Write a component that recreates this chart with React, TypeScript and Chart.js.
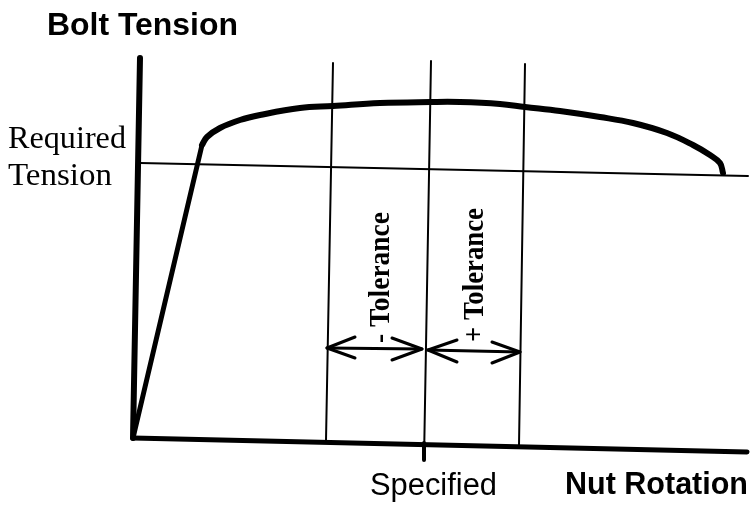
import React, { useEffect, useRef } from "react";
import { Chart, registerables } from "chart.js";

Chart.register(...registerables);

// Diagram units: rotation (x) and tension (y), origin at the axes corner.
const yAxisRot = [0, 7];
const yAxisTen = [0, 380];
const xAxisRot = [0, 614];
const xAxisTen = [0, -14];

// Elastic (straight) part of the tension curve
const elasticRot = [0, 69];
const elasticTen = [0, 293];
// Plastic (curved) part of the tension curve
const plasticRot = [69, 74, 87, 107, 127, 167, 200, 247, 298, 327, 367, 392, 427, 467, 500, 534, 560, 577, 587, 590];
const plasticTen = [293, 301, 310, 318, 323, 330, 332, 335, 336, 336, 334, 331, 327, 321, 315, 305, 293, 283, 275, 265];

// Required tension line
const requiredRot = [7, 615];
const requiredTen = [275, 262];

// Vertical lines: - tolerance, specified, + tolerance
const minusTolRot = [200, 193];
const minusTolTen = [375, -2];
const specifiedRot = [298, 291];
const specifiedTen = [377, -22];
const specTickRot = [291, 291];
const specTickTen = [-5, -22];
const plusTolRot = [392, 386];
const plusTolTen = [374, -7];

// Arrows
const minusArrowRot = [194, 289];
const minusArrowTen = [90, 89];
const minusHeadLRot = [222, 194, 222];
const minusHeadLTen = [101, 90, 80];
const minusHeadRRot = [259, 289, 259];
const minusHeadRTen = [100, 89, 78];
const plusArrowRot = [295, 387];
const plusArrowTen = [88, 86];
const plusHeadLRot = [324, 295, 324];
const plusHeadLTen = [98, 88, 76];
const plusHeadRRot = [359, 387, 359];
const plusHeadRTen = [96, 86, 75];

const titleY = "Bolt Tension";
const titleX = "Nut Rotation";
const requiredLabel = ["Required", "Tension"];
const specifiedLabel = "Specified";
const minusLabel = "- Tolerance";
const plusLabel = "+ Tolerance";

const pts = (xs: number[], ys: number[]) => xs.map((x, i) => ({ x, y: ys[i] }));

const line = (xs: number[], ys: number[], width: number, tension = 0) => ({
  data: pts(xs, ys),
  borderColor: "#000",
  backgroundColor: "#000",
  borderWidth: width,
  pointRadius: 0,
  tension,
  fill: false,
  borderCapStyle: "round" as const,
  borderJoinStyle: "round" as const,
});

function fitText(ctx: CanvasRenderingContext2D, text: string, x: number, y: number, width: number, rot = 0) {
  const w = ctx.measureText(text).width;
  ctx.save();
  ctx.translate(x, y);
  if (rot) ctx.rotate(rot);
  ctx.scale(width / w, 1);
  ctx.fillText(text, 0, 0);
  ctx.restore();
}

const textPlugin = {
  id: "diagramText",
  afterDraw(chart: Chart) {
    const ctx = chart.ctx;
    ctx.save();
    ctx.fillStyle = "#000";
    ctx.textAlign = "left";
    ctx.textBaseline = "alphabetic";
    ctx.font = "bold 32px 'Liberation Sans', Arial, sans-serif";
    fitText(ctx, titleY, 47, 35, 191);
    ctx.font = "bold 31px 'Liberation Sans', Arial, sans-serif";
    fitText(ctx, titleX, 565, 494, 183);
    ctx.font = "31px 'Liberation Sans', Arial, sans-serif";
    fitText(ctx, specifiedLabel, 370, 495, 127);
    ctx.font = "32px 'Liberation Serif', 'Times New Roman', serif";
    fitText(ctx, requiredLabel[0], 8, 148, 118);
    fitText(ctx, requiredLabel[1], 8, 185, 104);
    ctx.font = "bold 30px 'Liberation Serif', 'Times New Roman', serif";
    fitText(ctx, minusLabel, 389, 343, 131, -Math.PI / 2);
    fitText(ctx, plusLabel, 483, 342, 134, -Math.PI / 2);
    ctx.restore();
  },
};

export default function App() {
  const ref = useRef<HTMLCanvasElement>(null);
  useEffect(() => {
    if (!ref.current) return;
    const chart = new Chart(ref.current, {
      type: "line",
      data: {
        datasets: [
          line(requiredRot, requiredTen, 2),
          line(minusTolRot, minusTolTen, 2),
          line(specifiedRot, specifiedTen, 2),
          line(specTickRot, specTickTen, 4),
          line(plusTolRot, plusTolTen, 2),
          line(minusArrowRot, minusArrowTen, 3),
          line(minusHeadLRot, minusHeadLTen, 3),
          line(minusHeadRRot, minusHeadRTen, 3),
          line(plusArrowRot, plusArrowTen, 3),
          line(plusHeadLRot, plusHeadLTen, 3),
          line(plusHeadRRot, plusHeadRTen, 3),
          line(yAxisRot, yAxisTen, 6),
          line(xAxisRot, xAxisTen, 5),
          line(elasticRot, elasticTen, 5),
          line(plasticRot, plasticTen, 6, 0.4),
        ] as any,
      },
      options: {
        animation: false,
        responsive: false,
        layout: { padding: 0 },
        plugins: { legend: { display: false }, tooltip: { enabled: false } },
        scales: {
          x: { type: "linear", min: -133, max: 622, display: false },
          y: { type: "linear", min: -68, max: 438, display: false },
        },
      },
      plugins: [textPlugin],
    });
    return () => chart.destroy();
  }, []);
  return (
    <div style={{ position: "fixed", left: 0, top: 0, width: 755, height: 506, background: "#fff" }}>
      <canvas ref={ref} width={755} height={506} />
    </div>
  );
}
